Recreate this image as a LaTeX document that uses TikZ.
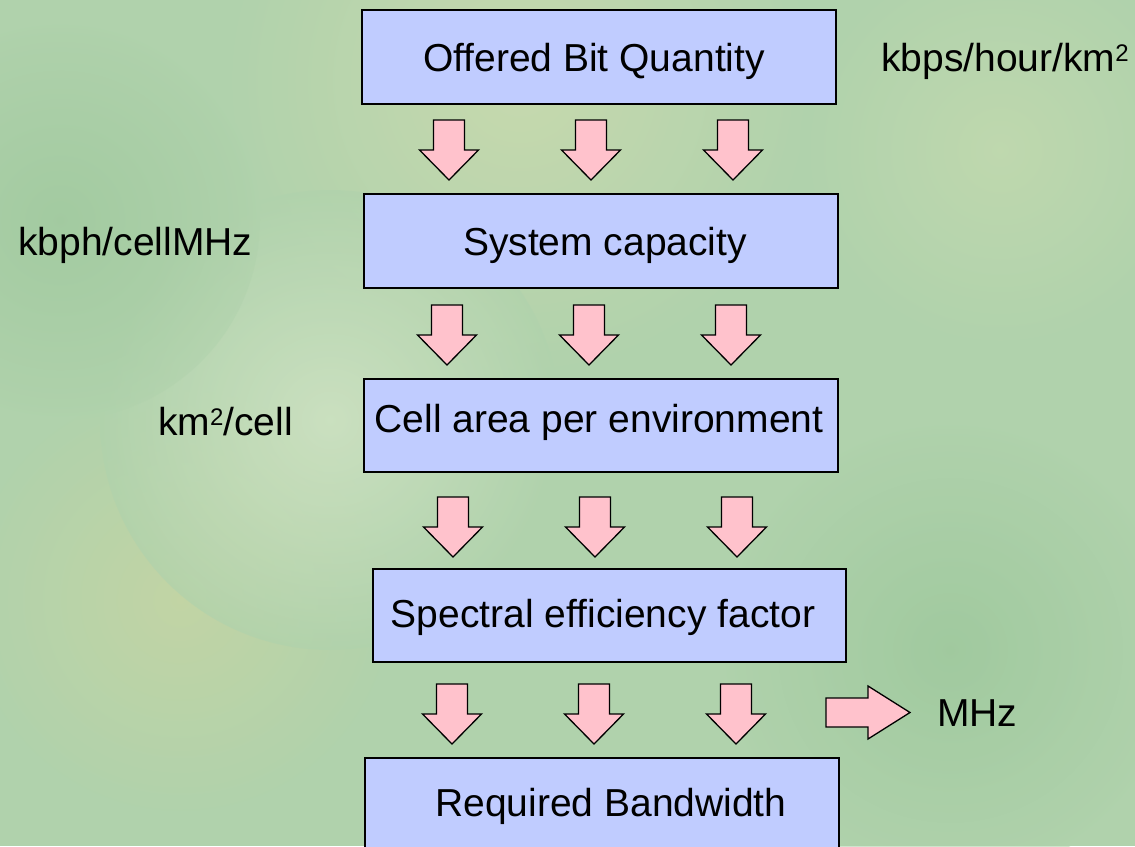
\documentclass[tikz,border=0pt]{standalone}
\usepackage{fontspec}
\setmainfont{Liberation Sans}
\newcommand{\sqsup}{\raisebox{10pt}{\fontsize{24}{24}\selectfont 2}}
\begin{document}
\begin{tikzpicture}[x=1pt,y=-1pt,
  boxstyle/.style={draw=black, line width=1.6pt, fill=boxblue},
  lbl/.style={font=\fontsize{39}{44}\selectfont, inner sep=0pt, text=black},
  blockarrow/.style={draw=black, line width=1.3pt, fill=arrowpink, line join=miter},
  pics/downarrow/.style={code={
    \draw[blockarrow] (-15.5,0)--(15.5,0)--(15.5,30)--(29.5,30)--(0,60)--(-29.5,30)--(-15.5,30)--cycle;}}
]
\definecolor{bggreen}{RGB}{176,210,172}
\definecolor{boxblue}{RGB}{192,204,255}
\definecolor{arrowpink}{RGB}{255,194,204}
\useasboundingbox (0,0) rectangle (1135,846);
% background
\begin{scope}
\clip (0,0) rectangle (1135,846);
\fill[bggreen] (0,0) rectangle (1135,846);
\shade[inner color={rgb,255:red,214;green,222;blue,176}, outer color=bggreen, opacity=0.6] (520,80) circle (300);
\shade[inner color={rgb,255:red,206;green,214;blue,160}, outer color=bggreen, opacity=0.6] (180,600) circle (220);
\shade[inner color={rgb,255:red,214;green,230;blue,200}, outer color=bggreen, opacity=0.7] (330,420) circle (230);
\shade[inner color={rgb,255:red,150;green,196;blue,150}, outer color=bggreen, opacity=0.6] (950,650) circle (230);
\shade[inner color={rgb,255:red,150;green,196;blue,150}, outer color=bggreen, opacity=0.5] (60,220) circle (200);
\shade[inner color={rgb,255:red,206;green,222;blue,176}, outer color=bggreen, opacity=0.5] (1000,150) circle (200);
\end{scope}

% boxes
\node[boxstyle, minimum width=474pt, minimum height=94pt, anchor=north west] (b1) at (361,9) {};
\node[lbl] (t1) at (594,61) {Offered Bit Quantity};
\node[boxstyle, minimum width=474pt, minimum height=94pt, anchor=north west] (b2) at (363,193) {};
\node[lbl] (t2) at (605,245) {System capacity};
\node[boxstyle, minimum width=474pt, minimum height=93pt, anchor=north west] (b3) at (363,378) {};
\node[lbl] (t3) at (599,422) {Cell area per environment};
\node[boxstyle, minimum width=473pt, minimum height=93pt, anchor=north west] (b4) at (372,568) {};
\node[lbl] (t4) at (603,617) {Spectral efficiency factor};
\node[boxstyle, minimum width=474pt, minimum height=100pt, anchor=north west] (b5) at (364,757) {};
\node[lbl] (t5) at (611,806) {Required Bandwidth};

% arrows
\foreach \x in {449,591,733} \pic at (\x,120) {downarrow};
\foreach \x in {447,589,731} \pic at (\x,305) {downarrow};
\foreach \x in {453,595,737} \pic at (\x,497) {downarrow};
\foreach \x in {452,594,736} \pic at (\x,684) {downarrow};
\draw[blockarrow] (826,698)--(868,698)--(868,686)--(910,712.5)--(868,739)--(868,727)--(826,727)--cycle;

% unit labels
\node[lbl, anchor=west] (u1) at (881,61) {kbps/hour/km\sqsup};
\node[lbl, anchor=west] (u2) at (18,245) {kbph/cellMHz};
\node[lbl, anchor=west] (u3) at (158,422) {km\sqsup/cell};
\node[lbl, anchor=west] (u4) at (937,713) {MHz};
\end{tikzpicture}
\end{document}
